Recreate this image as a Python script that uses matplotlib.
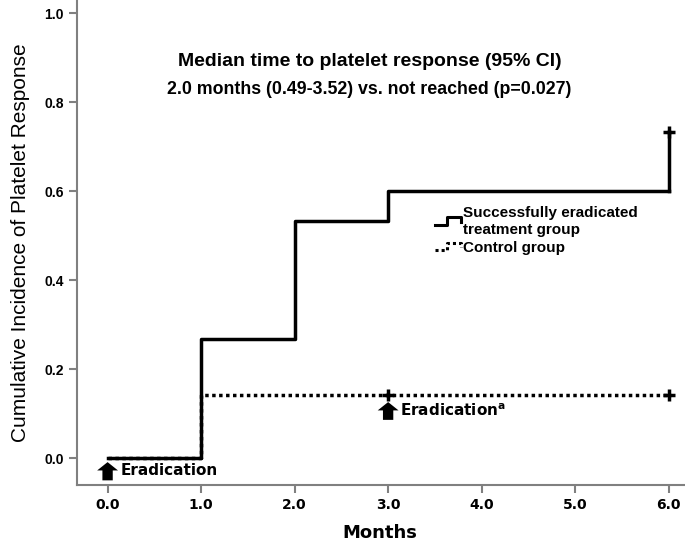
import matplotlib
matplotlib.use("Agg")
import matplotlib.pyplot as plt
import numpy as np
from matplotlib.legend_handler import HandlerBase
from matplotlib.lines import Line2D

plt.rcParams['font.family'] = ['Liberation Sans', 'DejaVu Sans']

# step data (months, cumulative incidence)
treat_t = [0.0, 1.0, 2.0, 3.0, 6.0]
treat_y = [0.0, 0.267, 0.533, 0.6, 0.733]
ctrl_t = [0.0, 1.0, 6.0]
ctrl_y = [0.0, 0.143, 0.143]
treat_cens_t = [6.0]
treat_cens_y = [0.733]
ctrl_cens_t = [3.0, 6.0]
ctrl_cens_y = [0.143, 0.143]
xticks = [0.0, 1.0, 2.0, 3.0, 4.0, 5.0, 6.0]
yticks = [0.0, 0.2, 0.4, 0.6, 0.8, 1.0]

alt_font = ['DejaVu Sans']


class StepHandler(HandlerBase):
    def __init__(self, ls):
        super().__init__()
        self.ls = ls

    def create_artists(self, legend, orig, xd, yd, w, h, fontsize, trans):
        xs = [0, w * 0.45, w * 0.45, w, w]
        ys = [h * 0.2, h * 0.2, h * 0.9, h * 0.9, h * 0.5]
        ln = Line2D(xs, ys, color='k', lw=2.2, ls=self.ls, transform=trans)
        return [ln]


fig = plt.figure(figsize=(6.85, 5.44), dpi=100)
ax = fig.add_axes([0.112, 0.108, 0.886, 0.892])

ax.step(treat_t[:-1] + [6.0], treat_y[:-1] + [treat_y[-2]], where='post', color='k', lw=2.5)
ax.plot([treat_t[-1], treat_t[-1]], [treat_y[-2], treat_y[-1]], color='k', lw=2.5)
ax.step(ctrl_t, ctrl_y, where='post', color='k', lw=2.5, ls=(0, (1, 1)))
ax.plot(treat_cens_t, treat_cens_y, '+', color='k', ms=9, mew=2.5)
ax.plot(ctrl_cens_t, ctrl_cens_y, '+', color='k', ms=9, mew=2.5)

# eradication arrows
arrow_props = dict(arrowstyle='simple,head_length=0.5,head_width=1.25,tail_width=0.62',
                   color='k', lw=0, mutation_scale=12, shrinkA=0, shrinkB=0)
ax.annotate('', xy=(0.0, -0.009), xytext=(0.0, -0.05), arrowprops=arrow_props)
ax.text(0.14, -0.027, 'Eradication', fontsize=11, fontweight='bold', va='center',
        ha='left', family=alt_font)
ax.annotate('', xy=(3.0, 0.126), xytext=(3.0, 0.086), arrowprops=arrow_props)
ax.text(3.13, 0.106, r'Eradication$^{\mathbf{a}}$', fontsize=11, fontweight='bold',
        va='center', ha='left', family=alt_font)

ax.text(2.8, 0.892, 'Median time to platelet response (95% CI)', fontsize=14,
        fontweight='bold', ha='center', va='center')
ax.text(2.8, 0.829, '2.0 months (0.49-3.52) vs. not reached (p=0.027)', fontsize=12.8,
        fontweight='bold', ha='center', va='center')

h1 = Line2D([], [], color='k')
h2 = Line2D([], [], color='k', ls=':')
leg = ax.legend([h1, h2], ['Successfully eradicated\ntreatment group', 'Control group'],
                handler_map={h1: StepHandler('-'), h2: StepHandler((0, (1, 1)))},
                loc='upper left', bbox_to_anchor=(0.568, 0.603), frameon=False,
                prop={'weight': 'bold', 'size': 11}, handlelength=1.7,
                handletextpad=0.1, labelspacing=0.3)

ax.set_xlim(-0.33, 6.16)
ax.set_ylim(-0.061, 1.03)
ax.set_xticks(xticks)
ax.set_xticklabels(['%.1f' % v for v in xticks], fontweight='bold', fontsize=10,
                   family=alt_font)
ax.set_yticks(yticks)
ax.set_yticklabels(['%.1f' % v for v in yticks], fontweight='bold', fontsize=10)
for s in ['top', 'right']:
    ax.spines[s].set_visible(False)
for s in ['left', 'bottom']:
    ax.spines[s].set_color('#808080')
    ax.spines[s].set_linewidth(1.5)
ax.tick_params(color='#808080', width=1.5, length=6)
ax.set_xlabel('Months', fontsize=13, fontweight='bold', labelpad=8, family=alt_font)
ax.set_ylabel('Cumulative Incidence of Platelet Response', fontsize=15, labelpad=10)

fig.savefig('out.png', dpi=100)
